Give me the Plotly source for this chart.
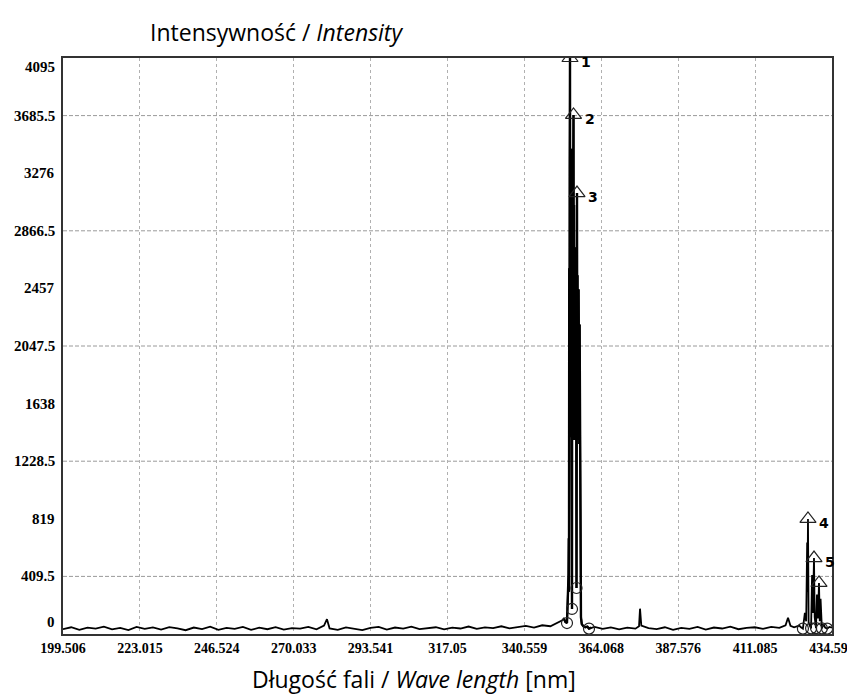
import plotly.graph_objects as go

# ---- axis ticks ----
x_tickvals = [199.506, 223.015, 246.524, 270.033, 293.541, 317.05, 340.559, 364.068, 387.576, 411.085, 434.594]
x_ticktext = ["199.506", "223.015", "246.524", "270.033", "293.541", "317.05", "340.559", "364.068", "387.576", "411.085", "434.594"]
y_tickvals = [0, 409.5, 819, 1228.5, 1638, 2047.5, 2457, 2866.5, 3276, 3685.5, 4095]
y_ticktext = ["0", "409.5", "819", "1228.5", "1638", "2047.5", "2457", "2866.5", "3276", "3685.5", "4095"]

# ---- spectrum: baseline left of the main cluster ----
base_left_wl = [199.5, 202.0, 204.5, 207.0, 209.5, 212.0, 214.5, 217.0, 219.5, 222.0, 224.5, 227.0,
                229.5, 232.0, 234.5, 237.0, 239.5, 242.0, 244.5, 247.0, 249.5, 252.0, 254.5, 257.0,
                259.5, 262.0, 264.5, 267.0, 269.5, 272.0, 274.5, 277.0, 279.3, 280.2, 281.0, 283.5,
                286.0, 288.5, 291.0, 293.5, 296.0, 298.5, 301.0, 303.5, 306.0, 308.5, 311.0, 313.5,
                316.0, 318.5, 321.0, 323.5, 326.0, 328.5, 331.0, 333.5, 336.0, 338.5, 341.0, 343.5,
                346.0, 348.5, 350.5, 352.0]
base_left_int = [35, 48, 30, 45, 38, 52, 33, 44, 28, 50, 36, 47,
                 31, 49, 40, 27, 46, 35, 52, 30, 43, 37, 50, 29,
                 45, 34, 48, 31, 42, 38, 51, 33, 60, 105, 40, 30,
                 47, 36, 28, 44, 50, 32, 46, 38, 52, 35, 41, 48,
                 33, 45, 39, 53, 36, 47, 42, 55, 40, 50, 58, 46,
                 62, 55, 75, 95]

# ---- main emission cluster (peaks 1-3) ----
cluster_wl = [352.6, 353.1, 353.58, 354.05, 354.12, 354.19, 354.27, 354.35, 354.42, 354.50, 354.58,
              354.66, 354.74, 354.82, 354.90, 354.98, 355.05, 355.11, 355.18, 355.26, 355.34, 355.42,
              355.50, 355.57, 355.65, 355.73, 355.81, 355.89, 355.97, 356.05, 356.13, 356.21, 356.29,
              356.37, 356.49, 356.56, 356.64, 356.72, 356.80, 356.88, 356.96, 357.04, 357.12, 357.20,
              357.28, 357.36, 357.44, 357.52, 357.60, 357.70, 357.85, 358.1, 358.6, 359.2, 359.8,
              360.31, 361.0]
cluster_int = [110, 85, 78, 420, 680, 300, 2600, 1450, 3300, 4095, 1400,
               3550, 1500, 3450, 1380, 3350, 1420, 178, 3250, 1400, 3400, 1450,
               3300, 3690, 1400, 3050, 1380, 2750, 1420, 2650, 1400, 2700, 1380,
               2600, 327, 2550, 3135, 1400, 2550, 1380, 2500, 1420, 2450, 1400,
               2400, 1350, 2200, 1300, 900, 330, 120, 70, 55, 48, 52,
               38, 45]

# ---- baseline right of the main cluster ----
base_right_wl = [362.0, 364.5, 367.0, 369.5, 372.0, 374.5, 375.6, 375.9, 376.3, 378.5, 381.0, 383.5,
                 386.0, 388.5, 391.0, 393.5, 396.0, 398.5, 401.0, 403.5, 406.0, 408.5, 411.0, 413.5,
                 416.0, 418.5, 420.4, 421.15, 421.9, 423.0, 424.0]
base_right_int = [50, 36, 47, 33, 45, 38, 55, 180, 60, 42, 35, 48,
                  30, 44, 37, 50, 32, 46, 39, 52, 34, 43, 48, 36,
                  50, 44, 62, 115, 58, 47, 55]

# ---- second cluster (peaks 4-6) ----
cluster2_wl = [424.6, 425.1, 425.7, 426.3, 426.7, 427.0, 427.1, 427.25, 427.45, 427.8, 428.2,
               428.5, 428.75, 429.09, 429.3, 429.7, 430.0, 430.3, 430.62, 430.85, 431.1, 431.5,
               432.0, 432.5, 433.1, 433.8, 434.59]
cluster2_int = [60, 48, 38, 150, 90, 650, 300, 818, 80, 60, 40,
                420, 150, 540, 120, 42, 280, 110, 363, 90, 250, 40,
                70, 45, 38, 50, 45]

# ---- marked peaks (triangles) and valleys (circles) ----
peak_wl = [354.50, 355.57, 356.64, 427.25, 429.09, 430.62]
peak_int = [4095, 3690, 3135, 818, 540, 363]
peak_labels = ["1", "2", "3", "4", "5", ""]
valley_wl = [353.58, 355.11, 356.49, 360.31, 425.7, 428.2, 429.7, 431.5, 433.1]
valley_int = [78, 178, 327, 38, 38, 40, 42, 40, 38]

wavelength = base_left_wl + cluster_wl + base_right_wl + cluster2_wl
intensity = base_left_int + cluster_int + base_right_int + cluster2_int

fig = go.Figure()
fig.add_trace(go.Scatter(x=wavelength, y=intensity, mode="lines",
                         line=dict(color="black", width=1.8), hoverinfo="skip"))
fig.add_trace(go.Scatter(x=cluster_wl, y=cluster_int, mode="lines",
                         line=dict(color="black", width=2.4), hoverinfo="skip"))
fig.add_trace(go.Scatter(x=valley_wl, y=valley_int, mode="markers",
                         marker=dict(symbol="circle-open", size=11, color="#222",
                                     line=dict(width=1.2)), hoverinfo="skip"))
fig.add_trace(go.Scatter(x=peak_wl, y=peak_int, mode="markers",
                         marker=dict(symbol="triangle-up-open", size=14, color="#222",
                                     line=dict(width=1.2)), hoverinfo="skip"))

for xw, yv, lab in zip(peak_wl, peak_int, peak_labels):
    if lab:
        fig.add_annotation(x=xw, y=yv, text="<b>" + lab + "</b>", showarrow=False,
                           xanchor="left", yanchor="middle", xshift=9, yshift=-4,
                           font=dict(family="DejaVu Sans", size=14, color="black"))

# dashed horizontal grid lines at the half-step ticks
for v in y_tickvals[1::2]:
    fig.add_shape(type="line", xref="paper", x0=0, x1=1, yref="y", y0=v, y1=v,
                  line=dict(color="#9a9a9a", width=1, dash="4px,2px"), layer="below")

x_tick_font = dict(family="Liberation Serif", size=14, color="black", weight="bold")
y_tick_font = dict(family="Liberation Serif", size=15, color="black", weight="bold")

# y tick labels: the end labels sit just inside the frame, as in the original software
for i, (v, t) in enumerate(zip(y_tickvals, y_ticktext)):
    shift = 12 if i == 0 else (-9 if i == len(y_tickvals) - 1 else 0)
    fig.add_annotation(x=0, xref="paper", y=v, yref="y", text=t, showarrow=False,
                       xanchor="right", yanchor="middle", xshift=-6, yshift=shift,
                       font=y_tick_font)

# the page body adds an 8px margin, so the figure is 8px smaller and the margins 8px tighter
fig.update_layout(
    width=847, height=689,
    margin=dict(l=55, r=23, t=50, b=63, autoexpand=False),
    paper_bgcolor="white", plot_bgcolor="white",
    showlegend=False,
    xaxis=dict(range=[199.506, 434.594], tickmode="array", tickvals=x_tickvals, ticktext=x_ticktext,
               showgrid=True, gridcolor="#b0b0b0", griddash="dot", gridwidth=1,
               showline=True, linecolor="#333", linewidth=2, mirror=True, automargin=False,
               ticks="", zeroline=False, tickfont=x_tick_font, ticklabelstandoff=0,
               ticklabeloverflow="allow"),
    yaxis=dict(range=[0, 4095], tickmode="array", tickvals=y_tickvals,
               showticklabels=False,
               showgrid=False, showline=True, linecolor="#333", linewidth=2, mirror=True,
               automargin=False, ticks="", zeroline=False),
)

fig.add_annotation(text="Intensywność / <i>Intensity</i>", xref="paper", yref="paper",
                   x=(276 - 63) / 769, y=1 + (58 - 32) / 576, xanchor="center", yanchor="middle",
                   showarrow=False, font=dict(family="Open Sans", size=23, color="black"))
fig.add_annotation(text="Długość fali / <i>Wave length</i> [nm]", xref="paper", yref="paper",
                   x=(414 - 63) / 769, y=-(679 - 634) / 576, xanchor="center", yanchor="middle",
                   showarrow=False, font=dict(family="Open Sans", size=23, color="black"))

fig.write_html("out.html")
